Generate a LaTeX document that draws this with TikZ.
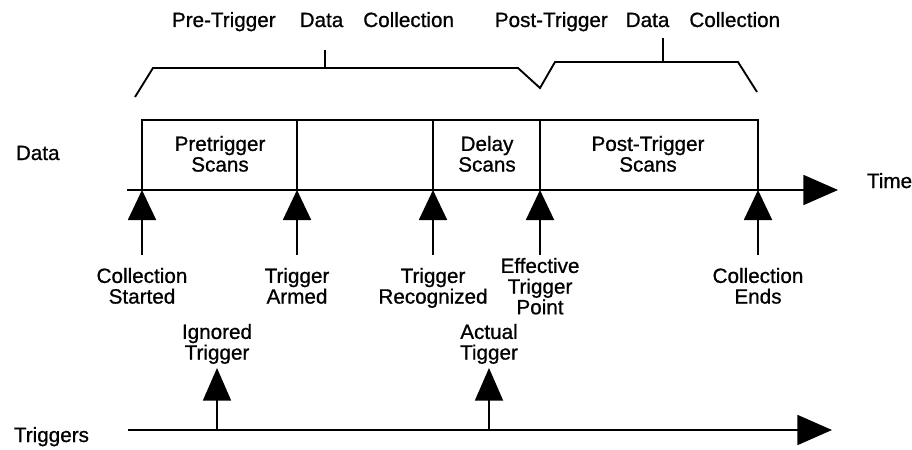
\documentclass[tikz,border=0pt]{standalone}
\usepackage{fontspec}
\setmainfont{Liberation Sans}[FakeBold=0.8]
\usetikzlibrary{arrows.meta}
\begin{document}
\begin{tikzpicture}[x=0.75pt,y=-0.75pt, line width=1.4pt,
  lbl/.style={font=\fontsize{15.5}{15.5}\selectfont, inner sep=0pt, align=center},
  uparrow/.style={-{Triangle[length=22.5pt,width=21pt]}},
  trigarrow/.style={-{Triangle[length=24.5pt,width=21pt]}},
  bigarrow/.style={-{Triangle[length=26pt,width=22.5pt]}}]
\useasboundingbox (0,0) rectangle (912,449);
\fill[white] (0,0) rectangle (912,449);

% top labels and bracket
\node[lbl, anchor=base] (pretitle) at (313,27) {Pre-Trigger\hspace{18pt}Data\hspace{15pt}Collection};
\node[lbl, anchor=base] (posttitle) at (637.5,27) {Post-Trigger\hspace{13.5pt}Data\hspace{15pt}Collection};
\draw (135,97) -- (153,68) -- (518,68) -- (540,88) -- (555,62) -- (738,62) -- (757,92);
\draw (325,50) -- (325,68);
\draw (663,38) -- (663,62);

% side labels
\node[lbl, anchor=base west] (datalbl) at (15,160) {Data};
\node[lbl, anchor=base west] (timelbl) at (866,188) {Time};
\node[lbl, anchor=base west] (triglbl) at (13,442) {Triggers};

% data box
\draw (142,190) -- (142,120) -- (758,120) -- (758,190);
\draw (297,120) -- (297,190);
\draw (433,120) -- (433,190);
\draw (540,120) -- (540,190);
\node[lbl, anchor=north] (prescans) at (220,135) {Pretrigger\\Scans};
\node[lbl, anchor=north] (delayscans) at (487,135) {Delay\\Scans};
\node[lbl, anchor=north] (postscans) at (648,135) {Post-Trigger\\Scans};

% time axis
\coordinate (ax0) at (127,190);
\coordinate (ax1) at (838,190);
\draw[bigarrow] (ax0) -- (ax1);

% events on data axis
\foreach \n/\x in {cs/142, ta/297, tr/433, et/540, ce/758}{
  \coordinate (\n0) at (\x,255);
  \coordinate (\n1) at (\x,190);
  \draw[uparrow] (\n0) -- (\n1);
}
\node[lbl, anchor=north] (cslbl) at (142,267) {Collection\\Started};
\node[lbl, anchor=north] (talbl) at (297,267) {Trigger\\Armed};
\node[lbl, anchor=north] (trlbl) at (433,267) {Trigger\\Recognized};
\node[lbl, anchor=north] (etlbl) at (540,257) {Effective\\Trigger\\Point};
\node[lbl, anchor=north] (celbl) at (758,267) {Collection\\Ends};

% triggers axis
\coordinate (tl0) at (128,430);
\coordinate (tl1) at (832,430);
\draw[bigarrow] (tl0) -- (tl1);
\coordinate (ig0) at (217,430);
\coordinate (ig1) at (217,368);
\draw[trigarrow] (ig0) -- (ig1);
\coordinate (at0) at (489,430);
\coordinate (at1) at (489,368);
\draw[trigarrow] (at0) -- (at1);
\node[lbl, anchor=north] (iglbl) at (217,323) {Ignored\\Trigger};
\node[lbl, anchor=north] (atlbl) at (489,323) {Actual\\Tigger};
\end{tikzpicture}
\end{document}
